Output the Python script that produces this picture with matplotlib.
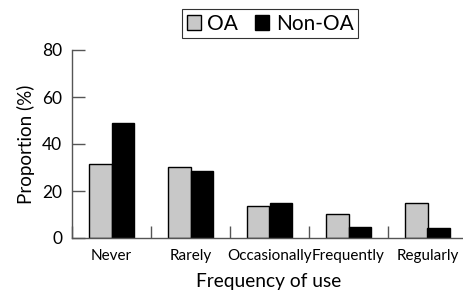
import matplotlib
matplotlib.use("Agg")
import matplotlib.pyplot as plt
import numpy as np
from matplotlib.patches import Patch

categories = ["Never", "Rarely", "Occasionally", "Frequently", "Regularly"]
oa = [31.5, 30.3, 13.8, 10.3, 14.9]
non_oa = [49.0, 28.5, 15.0, 4.8, 4.1]
yticks = [0, 20, 40, 60, 80]

plt.rcParams['font.family'] = ['Lato', 'DejaVu Sans']

W, H = 463, 295
fig = plt.figure(figsize=(W / 100, H / 100), dpi=100)
x0, x1 = 72, 467
y0, y1 = 238, 50
ax = fig.add_axes([x0 / W, (H - y0) / H, (x1 - x0) / W, (y0 - y1) / H])

x = np.arange(len(categories))
bw = 0.28
ax.bar(x - bw / 2, oa, bw, color="#c8c8c8", edgecolor="black", linewidth=1.0, label="OA")
ax.bar(x + bw / 2, non_oa, bw, color="black", edgecolor="black", linewidth=1.0, label="Non-OA")

ax.set_xlim(-0.5, len(categories) - 0.5)
ax.set_ylim(0, 80)
ax.set_yticks(yticks)
ax.set_xticks(x)
ax.set_xticklabels(categories)
ax.set_xticks(np.arange(len(categories)) - 0.5, minor=True)

for s in ["top", "right"]:
    ax.spines[s].set_visible(False)
for s in ["left", "bottom"]:
    ax.spines[s].set_color("#555555")
    ax.spines[s].set_linewidth(1.0)

ax.tick_params(axis="y", direction="in", length=9, width=1.0, color="#555555",
               labelsize=12.5, pad=7)
ax.tick_params(axis="x", which="major", length=0, labelsize=11, pad=8)
ax.tick_params(axis="x", which="minor", direction="in", length=9, width=1.0, color="#555555")

ax.set_ylabel("Proportion (%)", fontsize=13.5, labelpad=5)
fig.text(269 / W, 1 - 282 / H, "Frequency of use", fontsize=13.8, ha="center", va="center")

handles = [Patch(facecolor="#c8c8c8", edgecolor="black", label="OA"),
           Patch(facecolor="black", edgecolor="black", label="Non-OA")]
leg = fig.legend(handles=handles, loc="center", bbox_to_anchor=(270 / W, 1 - 23.5 / H),
                 ncol=2, fontsize=15, frameon=True, fancybox=False, edgecolor="black",
                 handlelength=0.7, handleheight=0.7, handletextpad=0.3, columnspacing=0.8,
                 borderpad=0.2, borderaxespad=0)
leg.get_frame().set_linewidth(0.8)

fig.savefig("out.png", dpi=100)
